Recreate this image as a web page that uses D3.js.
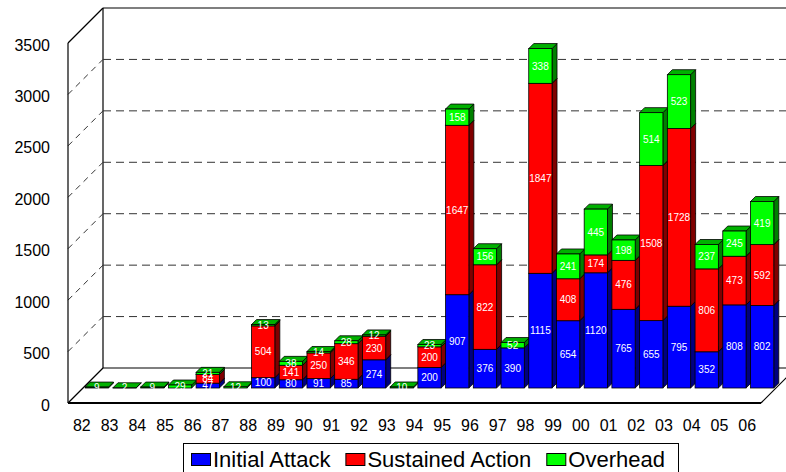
<!DOCTYPE html>
<html>
<head>
<meta charset="utf-8">
<script src="https://cdn.jsdelivr.net/npm/d3@7"></script>
<style>
  html, body { margin: 0; padding: 0; background: #fff; }
  svg { display: block; font-family: "Liberation Sans", Arial, sans-serif; }
</style>
</head>
<body>
<svg id="chart" width="786" height="472"></svg>
<script>
// Fire suppression cost breakdown by year (stacked 3-D columns)
const years = ["82","83","84","85","86","87","88","89","90","91","92","93","94","95","96","97","98","99","00","01","02","03","04","05","06"];
const initialAttack   = [0,0,0,0,47,0,100,80,91,85,274,0,200,907,376,390,1115,654,1120,765,655,795,352,808,802];
const sustainedAction = [0,0,0,0,84,0,504,141,250,346,230,0,200,1647,822,0,1847,408,174,476,1508,1728,806,473,592];
const overhead        = [9,2,9,29,21,12,13,38,14,28,12,10,23,158,156,52,338,241,445,198,514,523,237,245,419];
const seriesNames = ["Initial Attack", "Sustained Action", "Overhead"];
const yTicks = [0,500,1000,1500,2000,2500,3000,3500];

const colors = {
  front: ["#0000ff", "#ff0000", "#00ff00"],
  side:  ["#000080", "#800000", "#008000"],
  top:   ["#0000c0", "#c00000", "#00b000"]
};

const svg = d3.select("#chart");

// plot geometry (front plane) and 3-D depth offsets
const left = 68, right = 761, base = 403, topY = 43;
const depth = 35;      // floor depth (dx = depth, dy = -depth)
const barOff = 15;     // bar front face offset into the floor
const barDepth = 5;    // thickness of each column

const x = d3.scaleBand().domain(years).range([left, right]).paddingInner(0.16).paddingOuter(0.08);
const y = d3.scaleLinear().domain([0, 3500]).range([base, topY]);

const rows = years.map((yr, i) => ({ year: yr, values: [initialAttack[i], sustainedAction[i], overhead[i]] }));
const stack = d3.stack().keys([0, 1, 2]).value((d, k) => d.values[k]);
const stacked = stack(rows);

const g = svg.append("g");
const line = (x1, y1, x2, y2) => g.append("line").attr("x1", x1).attr("y1", y1).attr("x2", x2).attr("y2", y2);

// back wall
const bx0 = left + depth, bx1 = right + depth;
line(bx0, y(3500) - depth, bx1, y(3500) - depth).attr("stroke", "#000").attr("stroke-width", 1.2);
line(bx0, y(3500) - depth, bx0, y(0) - depth).attr("stroke", "#000").attr("stroke-width", 1.2);
yTicks.filter(t => t > 0 && t < 3500).forEach(t => {
  line(bx0, y(t) - depth, bx1, y(t) - depth)
    .attr("stroke", "#333").attr("stroke-width", 1).attr("stroke-dasharray", "8,5");
  // left wall diagonals
  line(left, y(t), bx0, y(t) - depth)
    .attr("stroke", "#333").attr("stroke-width", 1).attr("stroke-dasharray", "6,5");
});

// left wall
line(left, y(3500), left, y(0)).attr("stroke", "#000").attr("stroke-width", 1.2);
line(left, y(3500), bx0, y(3500) - depth).attr("stroke", "#000").attr("stroke-width", 1.2);

// floor
line(bx0, y(0) - depth, bx1, y(0) - depth).attr("stroke", "#000").attr("stroke-width", 1.2);
line(left, y(0), bx0, y(0) - depth).attr("stroke", "#000").attr("stroke-width", 1.2);
line(right, y(0), bx1, y(0) - depth).attr("stroke", "#000").attr("stroke-width", 1.2);
line(left, y(0), right, y(0)).attr("stroke", "#000").attr("stroke-width", 2);

// columns
const bw = x.bandwidth();
const poly = pts => pts.map(p => p.join(",")).join(" ");
const bars = g.append("g");
years.forEach((yr, i) => {
  const x0 = x(yr) + barOff, x1 = x0 + bw;
  stacked.forEach((layer, k) => {
    const [v0, v1] = layer[i];
    if (v1 - v0 <= 0) return;
    const yb = y(v0) - barOff, yt = y(v1) - barOff;
    const d = barDepth;
    // right side
    bars.append("polygon")
      .attr("points", poly([[x1, yb], [x1 + d, yb - d], [x1 + d, yt - d], [x1, yt]]))
      .attr("fill", colors.side[k]).attr("stroke", "#000").attr("stroke-width", 0.8).attr("stroke-linejoin", "round");
    // top
    bars.append("polygon")
      .attr("points", poly([[x0, yt], [x1, yt], [x1 + d, yt - d], [x0 + d, yt - d]]))
      .attr("fill", colors.top[k]).attr("stroke", "#000").attr("stroke-width", 0.8).attr("stroke-linejoin", "round");
    // front
    bars.append("rect")
      .attr("x", x0).attr("y", yt).attr("width", bw).attr("height", Math.max(yb - yt, 0.01))
      .attr("fill", colors.front[k]).attr("stroke", "#000").attr("stroke-width", 0.8);
  });
});

// value labels
const labels = g.append("g")
  .attr("font-size", 10).attr("fill", "#fff").attr("text-anchor", "middle");
years.forEach((yr, i) => {
  const cx = x(yr) + barOff + bw / 2;
  stacked.forEach((layer, k) => {
    const [v0, v1] = layer[i];
    const v = v1 - v0;
    if (v <= 0) return;
    const cy = (y(v0) + y(v1)) / 2 - barOff;
    labels.append("text").attr("x", cx).attr("y", cy).attr("dy", "0.36em").text(v);
  });
});

// y axis labels
const yAxis = d3.axisLeft(y).tickValues(yTicks).tickSize(0).tickPadding(18).tickFormat(d3.format("d"));
svg.append("g").attr("transform", `translate(${left},2)`).call(yAxis)
  .call(s => s.select(".domain").remove())
  .selectAll("text").attr("font-size", 16).attr("fill", "#000")
  .attr("font-family", "'Liberation Sans', Arial, sans-serif");

// x axis labels
const xAxis = d3.axisBottom(x).tickSize(0).tickPadding(0);
svg.append("g").attr("transform", `translate(0,${base + 17})`).call(xAxis)
  .call(s => s.select(".domain").remove())
  .selectAll("text").attr("font-size", 16).attr("fill", "#000")
  .attr("font-family", "'Liberation Sans', Arial, sans-serif");

// legend
const legend = svg.append("g");
legend.append("rect").attr("x", 183.5).attr("y", 443.5).attr("width", 495).attr("height", 40)
  .attr("fill", "#fff").attr("stroke", "#000").attr("stroke-width", 1);
let lx = 191;
seriesNames.forEach((name, k) => {
  legend.append("rect").attr("x", lx + 0.5).attr("y", 453.5).attr("width", 19).attr("height", 12)
    .attr("fill", colors.front[k]).attr("stroke", "#000").attr("stroke-width", 1);
  const t = legend.append("text").attr("x", lx + 22).attr("y", 467)
    .attr("font-size", 22).attr("fill", "#000").text(name);
  lx += 22 + t.node().getComputedTextLength() + 15;
});
</script>
</body>
</html>
